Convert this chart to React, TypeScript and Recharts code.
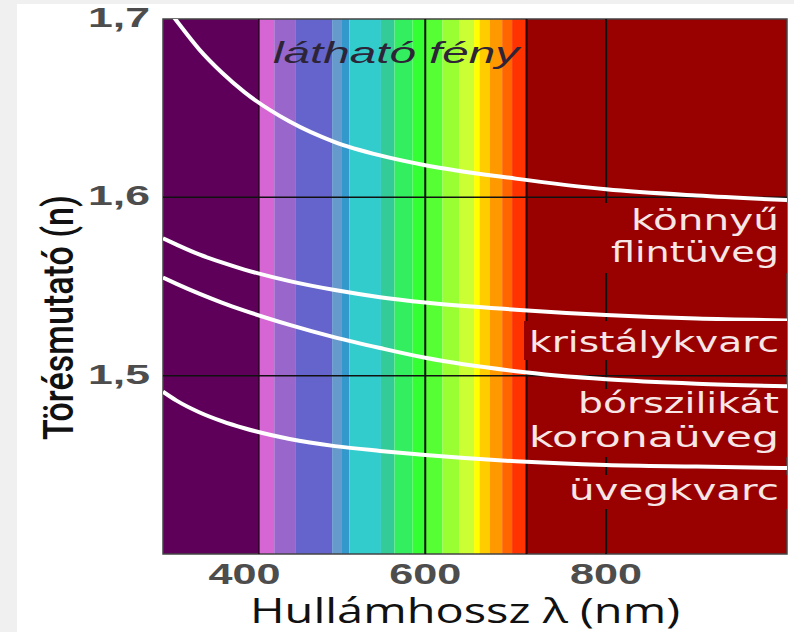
import React from 'react';
import { LineChart, Line, XAxis, YAxis, ReferenceArea, ReferenceLine, Label } from 'recharts';

// wavelength (nm) samples shared by the four curves
const wavelengths = [310, 325, 350, 375, 400, 450, 500, 550, 600, 700, 800, 900, 1000];
const lightFlint = [1.709, 1.699, 1.683, 1.67, 1.659, 1.6425, 1.631, 1.6235, 1.618, 1.6105, 1.6045, 1.601, 1.5985];
const crystalQuartz = [1.577, 1.5735, 1.568, 1.5635, 1.5595, 1.553, 1.548, 1.544, 1.541, 1.537, 1.534, 1.532, 1.531];
const borosilicate = [1.555, 1.5515, 1.546, 1.541, 1.5365, 1.5285, 1.5215, 1.5155, 1.51, 1.5025, 1.498, 1.4955, 1.494];
const fusedQuartz = [1.491, 1.486, 1.4795, 1.4745, 1.4705, 1.4645, 1.4605, 1.4578, 1.4555, 1.452, 1.4499, 1.449, 1.4482];

// spectrum bands: edges in nm and fill per band
const bandEdges = [310, 416, 433, 457, 497, 507, 516, 551, 566, 586, 600, 619, 638, 654, 660, 671, 685, 696, 712, 1000];
const bandColors = [
  '#5e005a', '#d566d3', '#9966cc', '#6464cc', '#6699cc', '#3399cc', '#33cccc', '#33cc99', '#33ee5e',
  '#33ff33', '#55ff33', '#99ff33', '#ccff33', '#ffff00', '#ffcc00', '#ff9900', '#ff6600', '#ff3300', '#990000',
];

const xTicks = [400, 600, 800];
const yTicks = [1.5, 1.6, 1.7];

const data = wavelengths.map((wl, i) => ({
  wl,
  flint: lightFlint[i],
  crystal: crystalQuartz[i],
  boro: borosilicate[i],
  fused: fusedQuartz[i],
}));

const curves = ['flint', 'crystal', 'boro', 'fused'];

// right-side material labels (layout only)
const labelBoxes = [
  { x: 604, y: 203, w: 183, h: 70 },
  { x: 524, y: 321, w: 263, h: 39 },
  { x: 570, y: 389, w: 217, h: 68 },
  { x: 562, y: 475, w: 225, h: 34 },
];
const labels = [
  { text: 'könnyű', y: 230, w: 148 },
  { text: 'flintüveg', y: 262, w: 168 },
  { text: 'kristálykvarc', y: 352, w: 250 },
  { text: 'bórszilikát', y: 413, w: 201 },
  { text: 'koronaüveg', y: 447, w: 250 },
  { text: 'üvegkvarc', y: 500, w: 210 },
];

const tickFont = '"Liberation Sans", Arial, sans-serif';

const YTick = (props: any) => {
  const { x, y, payload } = props;
  return (
    <text x={x} y={y + 8} textAnchor="end" fontFamily={tickFont} fontWeight="bold" fontSize={28}
      fill="#4d4d4d" textLength={62} lengthAdjust="spacingAndGlyphs">
      {payload.value.toFixed(1).replace('.', ',')}
    </text>
  );
};

const XTick = (props: any) => {
  const { x, y, payload } = props;
  return (
    <text x={x} y={y + 21} textAnchor="middle" fontFamily={tickFont} fontWeight="bold" fontSize={29}
      fill="#4d4d4d" textLength={72} lengthAdjust="spacingAndGlyphs">
      {payload.value}
    </text>
  );
};

export default function App() {
  return (
    <div style={{ position: 'fixed', left: 0, top: 0, width: 794, height: 632, background: '#f0f0f0' }}>
      <div style={{ position: 'absolute', left: 17, top: 4, right: 0, bottom: 0, background: '#fff' }} />
      <div style={{ position: 'absolute', left: 0, top: 0 }}>
        <LineChart width={794} height={632} data={data} margin={{ top: 19, right: 7, left: 0, bottom: 0 }}>
          <XAxis dataKey="wl" type="number" domain={[310, 1000]} ticks={xTicks} allowDataOverflow
            axisLine={false} tickLine={false} tickSize={0} tickMargin={9} height={78} tick={XTick}>
            <Label
              content={(p: any) => (
                <text x={p.viewBox.x + p.viewBox.width / 2 - 10} y={p.viewBox.y + 69} textAnchor="middle"
                  fontFamily='"Open Sans", sans-serif' fontSize={34} fill="#111" textLength={430}
                  lengthAdjust="spacingAndGlyphs">
                  Hullámhossz λ (nm)
                </text>
              )}
            />
          </XAxis>
          <YAxis type="number" domain={[1.4, 1.7]} ticks={yTicks} allowDataOverflow width={163}
            axisLine={false} tickLine={false} tickSize={0} tickMargin={13} tick={YTick}>
            <Label
              content={(p: any) => {
                const cx = 73;
                const cy = p.viewBox.y + p.viewBox.height / 2 + 31;
                return (
                  <text x={cx} y={cy} transform={`rotate(-90 ${cx} ${cy})`} textAnchor="middle"
                    fontFamily="Roboto, sans-serif" fontWeight={500} fontSize={42} fill="#111" textLength={245}
                    lengthAdjust="spacingAndGlyphs">
                    Törésmutató (n)
                  </text>
                );
              }}
            />
          </YAxis>

          {bandColors.map((c, i) => (
            <ReferenceArea key={`band-${i}`} x1={bandEdges[i]} x2={bandEdges[i + 1]} y1={1.4} y2={1.7}
              fill={c} fillOpacity={1} stroke="none" />
          ))}

          <ReferenceLine x={416} stroke="#2a0022" strokeWidth={1.5} />
          <ReferenceLine x={712} stroke="#2a0000" strokeWidth={2} />
          <ReferenceLine x={600} stroke="#111" strokeWidth={2} />
          <ReferenceLine x={800} stroke="#111" strokeWidth={2} />
          <ReferenceLine y={1.6} stroke="#111" strokeWidth={1.5} />
          <ReferenceLine y={1.5} stroke="#111" strokeWidth={1.5} />
          <ReferenceArea x1={310} x2={1000} y1={1.4} y2={1.7} fill="none" stroke="#444" strokeWidth={1.5} />

          {curves.map((k) => (
            <Line key={k} type="monotone" dataKey={k} stroke="#fff" strokeWidth={4} dot={false}
              activeDot={false} isAnimationActive={false} />
          ))}
        </LineChart>
      </div>
      <svg width={794} height={632} style={{ position: 'absolute', left: 0, top: 0, pointerEvents: 'none' }}>
        <text x={273} y={63} fontFamily={tickFont} fontStyle="italic" fontSize={30} fill="#2e2438"
          textLength={246} lengthAdjust="spacingAndGlyphs">
          látható fény
        </text>
        {labelBoxes.map((b, i) => (
          <rect key={`box-${i}`} x={b.x} y={b.y} width={b.w} height={b.h} fill="#990000" />
        ))}
        {labels.map((l) => (
          <text key={l.text} x={779} y={l.y} textAnchor="end" fontFamily='"DejaVu Sans", sans-serif'
            fontSize={28} fill="#f6e6e6" textLength={l.w} lengthAdjust="spacingAndGlyphs">
            {l.text}
          </text>
        ))}
      </svg>
    </div>
  );
}
